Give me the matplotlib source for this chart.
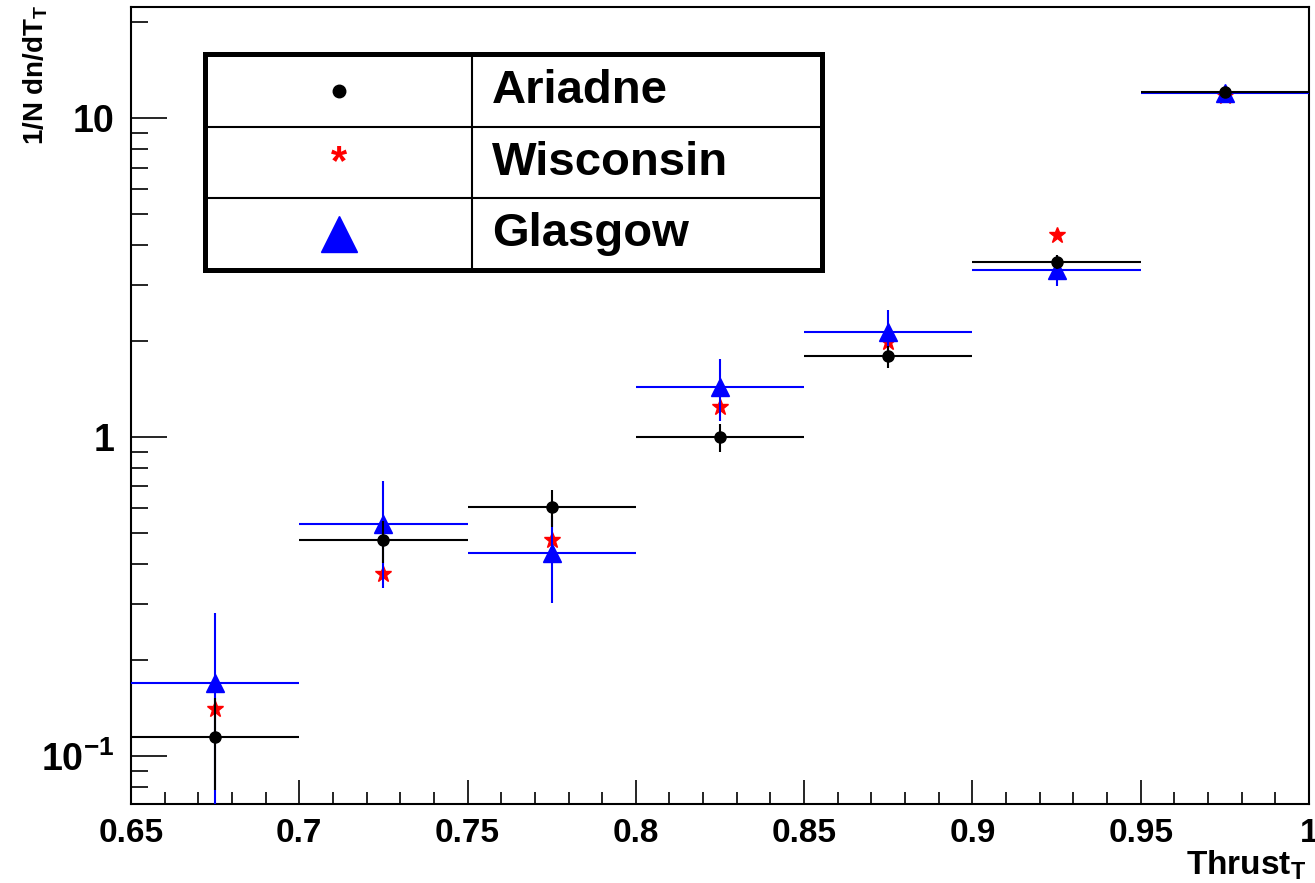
import numpy as np
import matplotlib
matplotlib.use("Agg")
import matplotlib.pyplot as plt
from matplotlib.ticker import FixedLocator, LogLocator, NullFormatter, FixedFormatter

plt.rcParams['font.family'] = ['Liberation Sans', 'DejaVu Sans']
plt.rcParams['font.weight'] = 'bold'
plt.rcParams['mathtext.fontset'] = 'custom'
plt.rcParams['mathtext.rm'] = 'Liberation Sans:bold'
plt.rcParams['mathtext.it'] = 'Liberation Sans:bold'
plt.rcParams['mathtext.bf'] = 'Liberation Sans:bold'

# thrust bins
bin_edges = [0.65, 0.70, 0.75, 0.80, 0.85, 0.90, 0.95, 1.00]

# 1/N dn/dT values
ariadne = [0.115, 0.474, 0.602, 1.00, 1.79, 3.54, 12.1]
ariadne_err = [0.037, 0.070, 0.080, 0.10, 0.14, 0.18, 0.25]
wisconsin = [0.140, 0.372, 0.475, 1.24, 1.98, 4.30, 11.7]
glasgow = [0.169, 0.532, 0.434, 1.44, 2.14, 3.35, 12.0]
glasgow_err = [0.112, 0.196, 0.132, 0.32, 0.36, 0.38, 0.30]

names = ['Ariadne', 'Wisconsin', 'Glasgow']
ytick_vals = [0.1, 1, 10]
ytick_labels = [r'$10^{-1}$', '1', '10']

edges = np.array(bin_edges)
centers = 0.5 * (edges[:-1] + edges[1:])
halfw = 0.5 * (edges[1:] - edges[:-1])

fig = plt.figure(figsize=(13.15, 8.83), dpi=100)
ax = fig.add_axes([0.0996, 0.0895, 0.8958, 0.9025])

ax.plot(centers, wisconsin, ls='none', marker='*', ms=12, color='red', zorder=2)
ax.errorbar(centers, glasgow, xerr=halfw, yerr=glasgow_err, fmt='^', ms=13,
            color='blue', ecolor='blue', elinewidth=1.5, capsize=0, zorder=3)
ax.errorbar(centers, ariadne, xerr=halfw, yerr=ariadne_err, fmt='o', ms=8,
            color='black', ecolor='black', elinewidth=1.5, capsize=0, zorder=4)

ax.set_yscale('log')
ax.set_xlim(0.65, 1.0)
ax.set_ylim(0.0707, 22.3)

ax.xaxis.set_major_locator(FixedLocator(np.arange(0.65, 1.001, 0.05)))
ax.xaxis.set_minor_locator(FixedLocator(np.arange(0.65, 1.001, 0.01)))
ax.set_xticklabels(['%g' % round(v, 2) for v in np.arange(0.65, 1.001, 0.05)])
ax.yaxis.set_major_locator(FixedLocator(ytick_vals))
ax.yaxis.set_major_formatter(FixedFormatter(ytick_labels))
ax.yaxis.set_minor_locator(LogLocator(base=10, subs=np.arange(2, 10)))
ax.yaxis.set_minor_formatter(NullFormatter())

ax.tick_params(axis='x', which='major', direction='in', length=17, width=1.2,
               labelsize=24, pad=10)
ax.tick_params(axis='x', which='minor', direction='in', length=8.5, width=1.2)
ax.tick_params(axis='y', which='major', direction='in', length=26, width=1.2,
               labelsize=27, pad=12)
ax.tick_params(axis='y', which='minor', direction='in', length=12, width=1.2)
for s in ax.spines.values():
    s.set_linewidth(1.5)

fig.text(0.993, 0.001, r'Thrust$_{T}$', ha='right', va='bottom', fontsize=24)
fig.text(0.027, 0.995, r'1/N dn/dT$_{T}$', ha='center', va='top', fontsize=20,
         rotation=90, family=['Liberation Sans Narrow', 'Liberation Sans'])

# legend table
lx0, lx1, lxm = 0.0628, 0.587, 0.2895
ly = [0.941, 0.849, 0.760, 0.670]
tr = ax.transAxes
ax.plot([lx0, lx1, lx1, lx0, lx0], [ly[0], ly[0], ly[3], ly[3], ly[0]],
        color='black', lw=3.6, transform=tr, clip_on=False, zorder=6,
        solid_joinstyle='miter')
ax.plot([lxm, lxm], [ly[0], ly[3]], color='black', lw=1.5, transform=tr, zorder=5)
for yy in ly[1:3]:
    ax.plot([lx0, lx1], [yy, yy], color='black', lw=1.5, transform=tr, zorder=5)
ax.fill([lx0, lx1, lx1, lx0], [ly[0], ly[0], ly[3], ly[3]], color='white',
        transform=tr, zorder=4.5)

mx = 0.1766
rows = [0.5 * (ly[i] + ly[i + 1]) for i in range(3)]
ax.plot([mx], [rows[0]], 'o', ms=9, color='black', transform=tr, zorder=7)
ax.text(mx, rows[1], '*', color='red', fontsize=30, ha='center', va='center',
        transform=tr, zorder=7)
ax.plot([mx], [rows[2]], '^', ms=26, color='blue', transform=tr, zorder=7)
for name, yy in zip(names, rows):
    ax.text(0.3065, yy, name, fontsize=34, ha='left', va='center',
            transform=tr, zorder=7)

fig.savefig('out.png', dpi=100)
